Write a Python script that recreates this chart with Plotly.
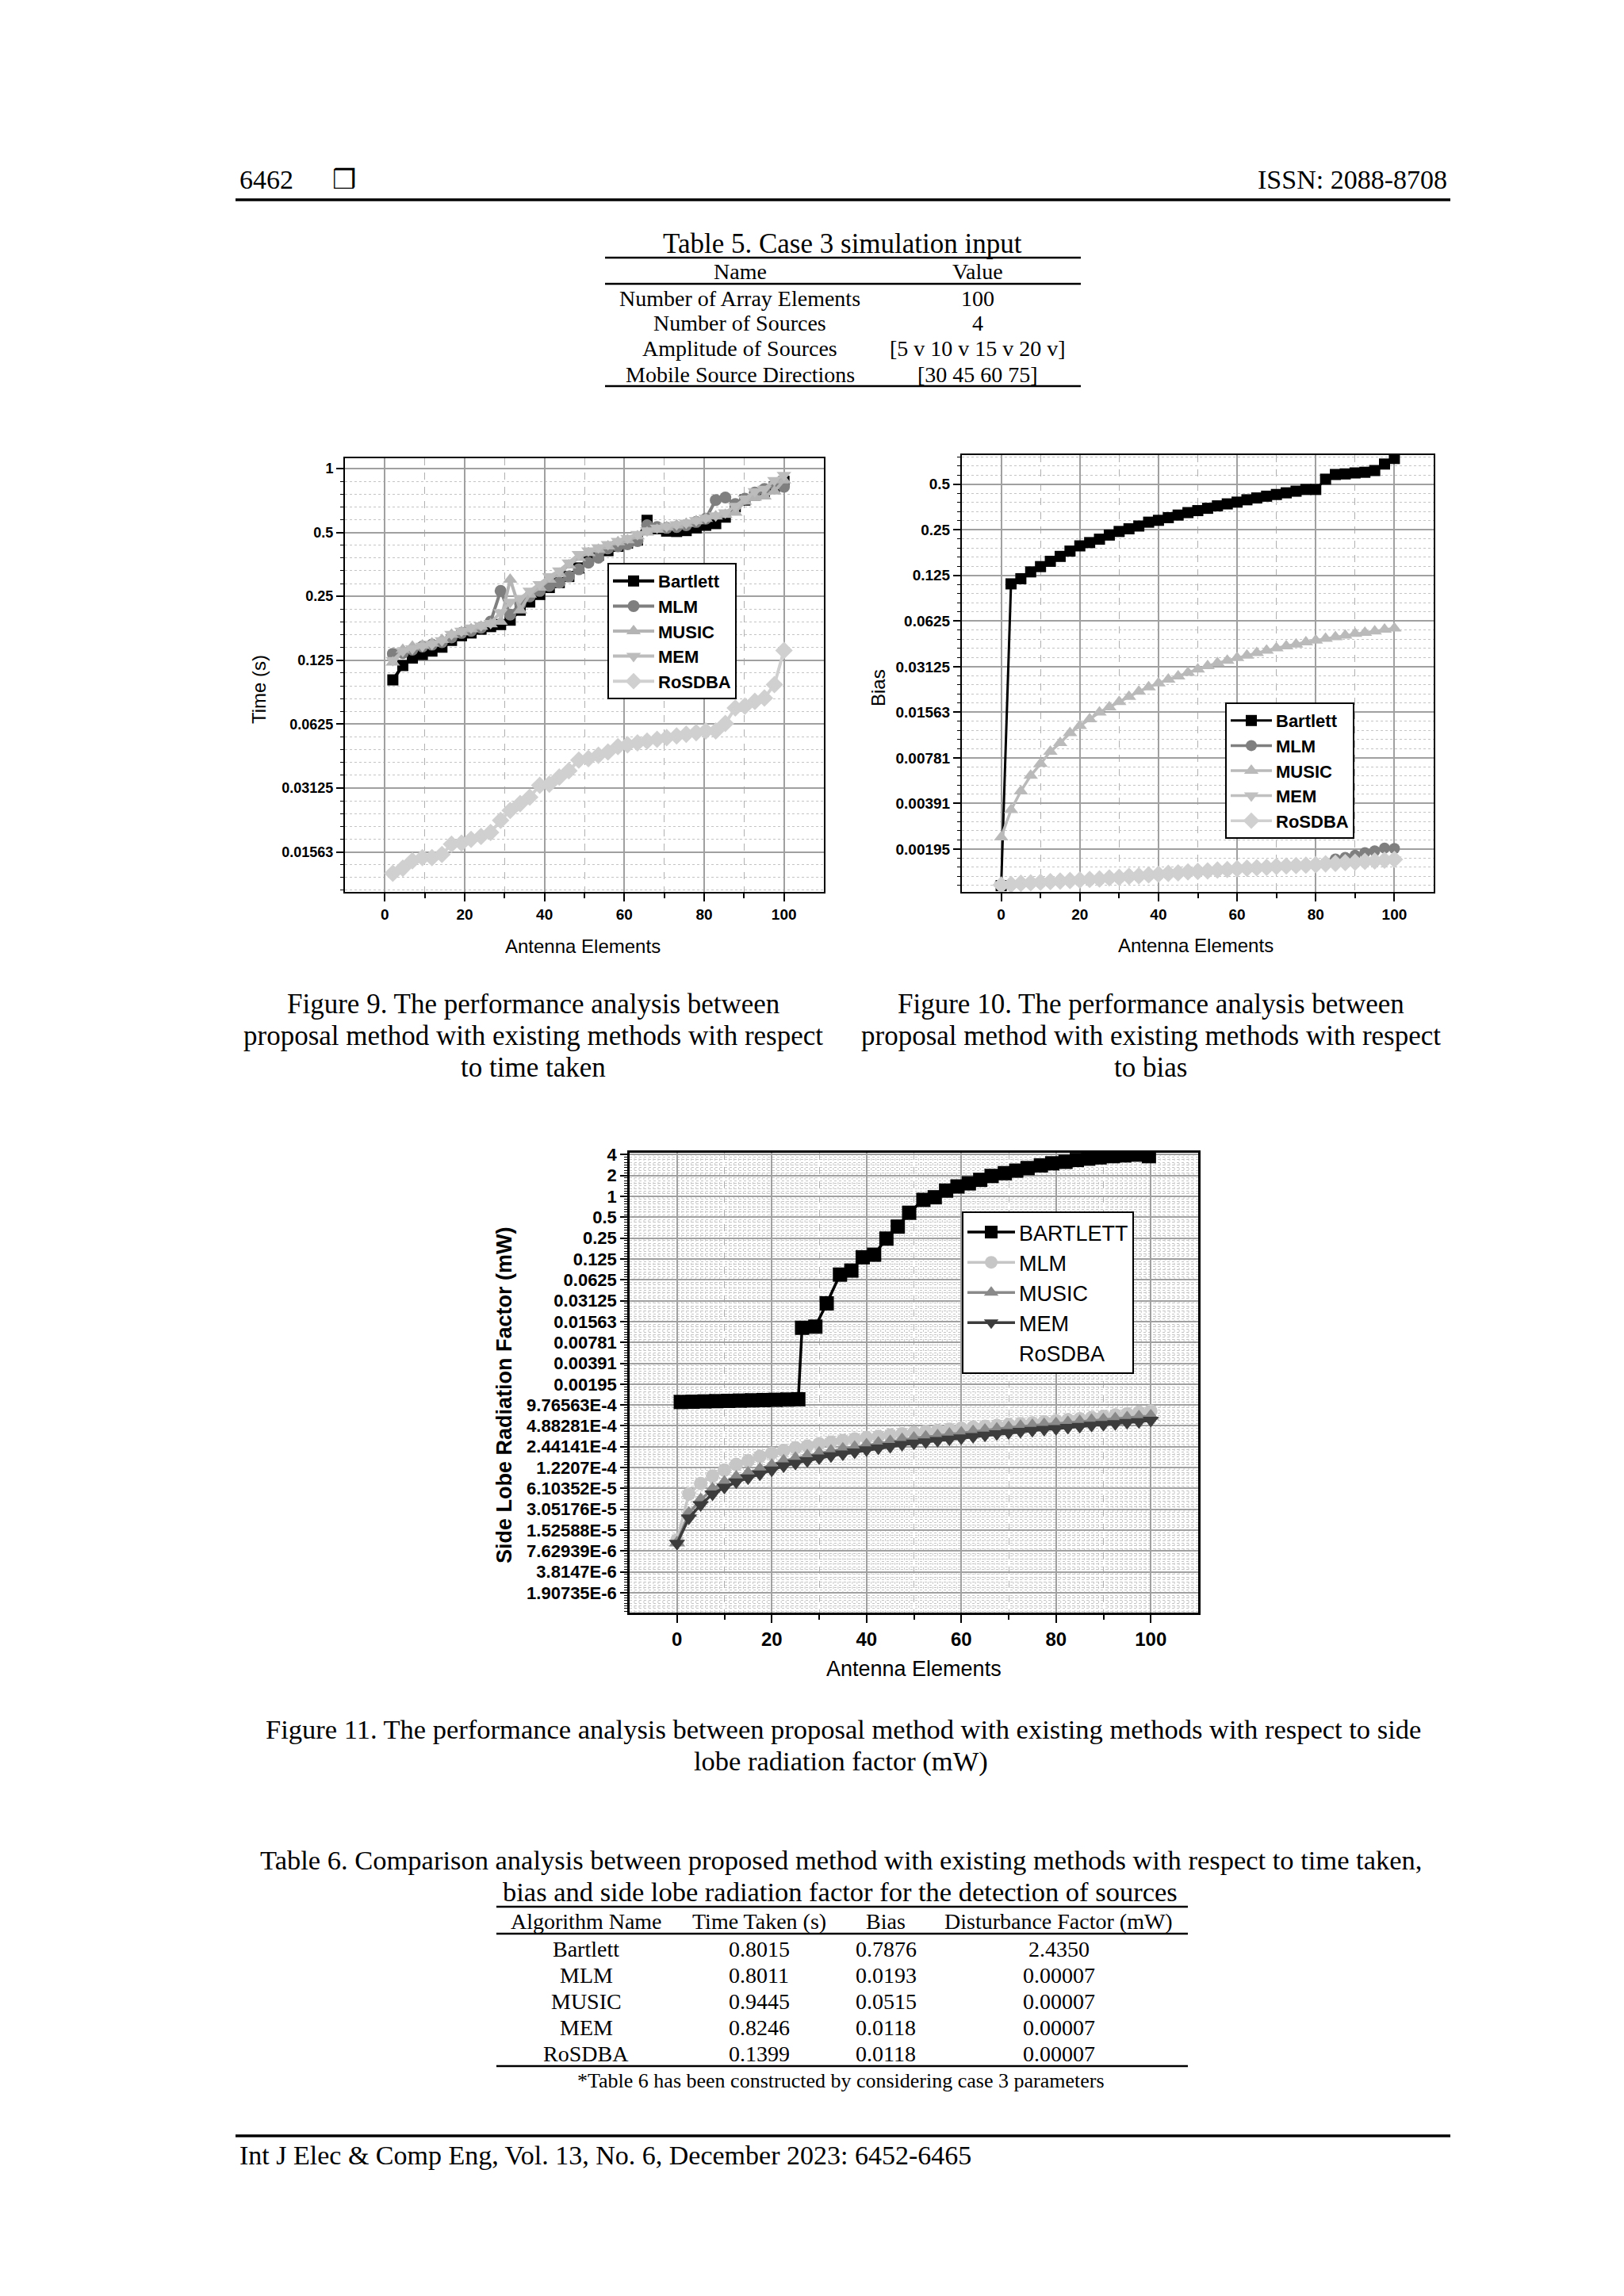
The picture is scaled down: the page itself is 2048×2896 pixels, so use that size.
import numpy as np
import plotly.graph_objects as go

W, H = 2048, 2896
def PX(x): return x / W
def PY(y): return 1 - y / H
LOG2 = np.log10(2)
SERIF = "Liberation Serif"
SANS = "Liberation Sans"

# ---------------- data: Figure 9 (time taken) ----------------
ELEM9 = [2, 4.5, 6.9, 9.4, 11.8, 14.3, 16.7, 19.2, 21.6, 24.1, 26.5, 29, 31.4, 33.9, 36.3, 38.8,
         41.2, 43.7, 46.1, 48.6, 51, 53.5, 55.9, 58.4, 60.8, 63.3, 65.7, 68.2, 70.6, 73.1, 75.5,
         78, 80.4, 82.9, 85.3, 87.8, 90.2, 92.7, 95.1, 97.6, 100]
TIME_BARTLETT = [0.101, 0.118, 0.128, 0.133, 0.138, 0.144, 0.155, 0.163, 0.168, 0.175,
                 0.180, 0.184, 0.193, 0.215, 0.235, 0.255, 0.275, 0.29, 0.31, 0.34,
                 0.375, 0.39, 0.41, 0.43, 0.445, 0.46, 0.57, 0.52, 0.507, 0.505,
                 0.51, 0.525, 0.54, 0.55, 0.59, 0.66, 0.71, 0.75, 0.78, 0.82, 0.87]
TIME_MLM = [0.134, 0.135, 0.14, 0.145, 0.148, 0.152, 0.16, 0.168, 0.172, 0.178,
            0.19, 0.265, 0.205, 0.23, 0.25, 0.265, 0.28, 0.29, 0.31, 0.335,
            0.36, 0.38, 0.42, 0.43, 0.44, 0.455, 0.54, 0.53, 0.525, 0.53,
            0.54, 0.56, 0.58, 0.71, 0.73, 0.68, 0.72, 0.77, 0.8, 0.84, 0.82]
TIME_MUSIC = [0.122, 0.14, 0.145, 0.147, 0.15, 0.156, 0.165, 0.17, 0.175, 0.18,
              0.185, 0.19, 0.30, 0.215, 0.255, 0.275, 0.3, 0.32, 0.35, 0.38,
              0.4, 0.415, 0.43, 0.45, 0.46, 0.48, 0.5, 0.515, 0.53, 0.54,
              0.55, 0.565, 0.58, 0.595, 0.605, 0.62, 0.7, 0.73, 0.74, 0.78, 0.88]
TIME_MEM = [0.125, 0.138, 0.142, 0.146, 0.149, 0.155, 0.166, 0.172, 0.178, 0.182,
            0.187, 0.21, 0.235, 0.245, 0.265, 0.285, 0.31, 0.33, 0.36, 0.395,
            0.41, 0.425, 0.44, 0.455, 0.47, 0.49, 0.51, 0.525, 0.535, 0.545,
            0.555, 0.57, 0.585, 0.6, 0.62, 0.665, 0.72, 0.78, 0.8, 0.88, 0.93]
TIME_ROSDBA = [0.0124, 0.0131, 0.0142, 0.0147, 0.0147, 0.0152, 0.017, 0.0172, 0.0179, 0.0185,
               0.0193, 0.022, 0.0245, 0.0264, 0.0283, 0.0322, 0.0326, 0.0352, 0.0377, 0.0423,
               0.043, 0.0446, 0.0462, 0.049, 0.050, 0.051, 0.052, 0.053, 0.054, 0.055,
               0.056, 0.057, 0.058, 0.058, 0.063, 0.0745, 0.076, 0.08, 0.083, 0.096, 0.139]
TIME_TICKVALS = [1, 0.5, 0.25, 0.125, 0.0625, 0.03125, 0.015625]
TIME_TICKTEXT = ["1", "0.5", "0.25", "0.125", "0.0625", "0.03125", "0.01563"]

# ---------------- data: Figure 10 (bias) ----------------
ELEM10 = [0, 2.5, 5, 7.5, 10, 12.5, 15, 17.5, 20, 22.5, 25, 27.5, 30, 32.5, 35, 37.5, 40, 42.5,
          45, 47.5, 50, 52.5, 55, 57.5, 60, 62.5, 65, 67.5, 70, 72.5, 75, 77.5, 80, 82.5, 85,
          87.5, 90, 92.5, 95, 97.5, 100]
BIAS_BARTLETT = [0.00112, 0.110, 0.119, 0.132, 0.143, 0.155, 0.167, 0.181, 0.196, 0.206, 0.217,
                 0.231, 0.244, 0.254, 0.265, 0.281, 0.289, 0.301, 0.313, 0.325, 0.335,
                 0.347, 0.36, 0.371, 0.381, 0.395, 0.406, 0.417, 0.428, 0.439, 0.45,
                 0.462, 0.462, 0.54, 0.58, 0.585, 0.594, 0.6, 0.616, 0.68, 0.74]
BIAS_MLM = [0.00112, 0.00113, 0.00115, 0.00116, 0.00117, 0.00118, 0.00119, 0.0012, 0.00121, 0.00122,
            0.00123, 0.00125, 0.00126, 0.00128, 0.00129, 0.00131, 0.00132, 0.00134, 0.00135, 0.00137,
            0.00138, 0.00139, 0.00141, 0.00142, 0.00144, 0.00145, 0.00146, 0.00147, 0.00149, 0.0015,
            0.00151, 0.00152, 0.00153, 0.00158, 0.00168, 0.00172, 0.00178, 0.00185, 0.0019, 0.00198, 0.00197]
BIAS_MUSIC = [0.00234, 0.00354, 0.00471, 0.00596, 0.00714, 0.0086, 0.0098, 0.0114, 0.0127, 0.0141,
              0.0156, 0.0169, 0.0183, 0.0198, 0.0214, 0.0229, 0.0243, 0.0257, 0.027, 0.0285,
              0.03, 0.0316, 0.033, 0.0343, 0.0357, 0.037, 0.0385, 0.0399, 0.0414, 0.0427,
              0.0438, 0.0454, 0.0466, 0.0478, 0.049, 0.0503, 0.0516, 0.0524, 0.0535, 0.0549, 0.056]
BIAS_MEM = [0.00113, 0.00114, 0.00115, 0.00117, 0.00118, 0.00119, 0.0012, 0.00121, 0.00122, 0.00123,
            0.00124, 0.00125, 0.00127, 0.00128, 0.0013, 0.00131, 0.00133, 0.00134, 0.00136, 0.00137,
            0.00139, 0.0014, 0.00141, 0.00143, 0.00144, 0.00146, 0.00147, 0.00148, 0.00149, 0.00151,
            0.00152, 0.00153, 0.00154, 0.00155, 0.00157, 0.00158, 0.0016, 0.00161, 0.00163, 0.00164, 0.00166]
BIAS_ROSDBA = [0.00113, 0.00114, 0.00116, 0.00117, 0.00118, 0.00119, 0.0012, 0.00121, 0.00122, 0.00123,
               0.00124, 0.00126, 0.00127, 0.00129, 0.0013, 0.00132, 0.00133, 0.00135, 0.00136, 0.00138,
               0.00139, 0.0014, 0.00142, 0.00143, 0.00145, 0.00146, 0.00147, 0.00148, 0.0015, 0.00151,
               0.00152, 0.00153, 0.00154, 0.00156, 0.00157, 0.00159, 0.0016, 0.00162, 0.00163, 0.00165, 0.00167]
BIAS_TICKVALS = [0.5, 0.25, 0.125, 0.0625, 0.03125, 0.015625, 0.0078125, 0.00390625, 0.001953125]
BIAS_TICKTEXT = ["0.5", "0.25", "0.125", "0.0625", "0.03125", "0.01563", "0.00781", "0.00391", "0.00195"]

# ---------------- data: Figure 11 (side lobe radiation factor) ----------------
ELEM11_BARTLETT = [0.8, 3.3, 5.8, 8.3, 10.8, 13.3, 15.8, 18.3, 20.8, 23.3, 25.6, 26.4, 29.2, 31.6,
                   34.4, 36.8, 39.2, 41.6, 44.2, 46.6, 49, 52, 54.4, 56.8, 59.2, 61.6, 64, 66.4,
                   69.2, 71.6, 74, 76.8, 79.2, 82, 84.4, 86.8, 89.2, 92, 94.4, 96.8, 99.6]
SLR_BARTLETT = [1.08e-3, 1.09e-3, 1.1e-3, 1.11e-3, 1.12e-3, 1.13e-3, 1.14e-3, 1.15e-3, 1.16e-3, 1.17e-3,
                1.18e-3, 0.0127, 0.0132, 0.0286, 0.0743, 0.085, 0.132, 0.144, 0.246, 0.366, 0.58,
                0.89, 0.97, 1.21, 1.39, 1.54, 1.73, 1.97, 2.16, 2.35, 2.56,
                2.8, 3.0, 3.15, 3.35, 3.5, 3.65, 3.8, 3.9, 4.0, 3.8]
ELEM11 = ELEM10
SLR_MLM = [1.1e-5, 5.06e-5, 7.2e-5, 9.2e-5, 1.12e-4, 1.35e-4, 1.53e-4, 1.77e-4, 1.97e-4, 2.15e-4,
           2.35e-4, 2.5e-4, 2.7e-4, 2.85e-4, 3.0e-4, 3.15e-4, 3.3e-4, 3.45e-4, 3.6e-4, 3.75e-4,
           3.9e-4, 4.05e-4, 4.2e-4, 4.35e-4, 4.5e-4, 4.65e-4, 4.8e-4, 4.95e-4, 5.1e-4, 5.25e-4,
           5.4e-4, 5.6e-4, 5.8e-4, 6.0e-4, 6.2e-4, 6.45e-4, 6.7e-4, 7.0e-4, 7.3e-4, 7.7e-4, 8.0e-4]
SLR_MUSIC = [1.0e-5, 2.7e-5, 4.2e-5, 6.0e-5, 7.5e-5, 8.9e-5, 1.02e-4, 1.16e-4, 1.32e-4, 1.52e-4,
             1.66e-4, 1.8e-4, 1.98e-4, 2.12e-4, 2.26e-4, 2.4e-4, 2.59e-4, 2.76e-4, 2.9e-4, 3.09e-4,
             3.24e-4, 3.38e-4, 3.52e-4, 3.69e-4, 3.85e-4, 4.04e-4, 4.22e-4, 4.4e-4, 4.6e-4, 4.8e-4,
             4.93e-4, 5.12e-4, 5.26e-4, 5.45e-4, 5.65e-4, 5.88e-4, 6.0e-4, 6.2e-4, 6.4e-4, 6.6e-4, 6.8e-4]
SLR_MEM = [9.8e-6, 2.28e-5, 3.55e-5, 5.06e-5, 6.32e-5, 7.56e-5, 8.63e-5, 9.86e-5, 1.12e-4, 1.29e-4,
           1.41e-4, 1.53e-4, 1.68e-4, 1.80e-4, 1.92e-4, 2.04e-4, 2.2e-4, 2.34e-4, 2.46e-4, 2.62e-4,
           2.75e-4, 2.87e-4, 2.99e-4, 3.13e-4, 3.27e-4, 3.43e-4, 3.58e-4, 3.74e-4, 3.9e-4, 4.07e-4,
           4.18e-4, 4.34e-4, 4.46e-4, 4.62e-4, 4.79e-4, 4.99e-4, 5.1e-4, 5.25e-4, 5.44e-4, 5.6e-4, 5.86e-4]
SLR_ROSDBA = SLR_MEM
SLR_TICKVALS = [2.0 ** k for k in range(2, -20, -1)]
SLR_TICKTEXT = ["4", "2", "1", "0.5", "0.25", "0.125", "0.0625", "0.03125", "0.01563", "0.00781",
                "0.00391", "0.00195", "9.76563E-4", "4.88281E-4", "2.44141E-4", "1.2207E-4",
                "6.10352E-5", "3.05176E-5", "1.52588E-5", "7.62939E-6", "3.8147E-6", "1.90735E-6"]

X_TICKVALS = [0, 20, 40, 60, 80, 100]

# ---------------- tables ----------------
T5_NAMES = ["Number of Array Elements", "Number of Sources", "Amplitude of Sources", "Mobile Source Directions"]
T5_VALUES = ["100", "4", "[5 v 10 v 15 v 20 v]", "[30 45 60 75]"]
T6_HEADER = ["Algorithm Name", "Time Taken (s)", "Bias", "Disturbance Factor (mW)"]
T6_ALGOS = ["Bartlett", "MLM", "MUSIC", "MEM", "RoSDBA"]
T6_TIME = ["0.8015", "0.8011", "0.9445", "0.8246", "0.1399"]
T6_BIAS = ["0.7876", "0.0193", "0.0515", "0.0118", "0.0118"]
T6_DIST = ["2.4350", "0.00007", "0.00007", "0.00007", "0.00007"]

fig = go.Figure()

def add_series(xs, ys, name, color, symbol, size, width, xa, ya, leg, rank):
    fig.add_trace(go.Scatter(
        x=xs, y=ys, name=name, mode="lines+markers",
        line=dict(color=color, width=width),
        marker=dict(symbol=symbol, size=size, color=color, line=dict(width=0)),
        xaxis=xa, yaxis=ya, legend=leg, legendrank=rank, showlegend=True))

# Figure 9
add_series(ELEM9, TIME_BARTLETT, "Bartlett", "#000000", "square", 14, 4, "x", "y", "legend", 1)
add_series(ELEM9, TIME_MLM, "MLM", "#7f7f7f", "circle", 15, 4, "x", "y", "legend", 2)
add_series(ELEM9, TIME_MUSIC, "MUSIC", "#b4b4b4", "triangle-up", 16, 4, "x", "y", "legend", 3)
add_series(ELEM9, TIME_MEM, "MEM", "#bcbcbc", "triangle-down", 16, 4, "x", "y", "legend", 4)
add_series(ELEM9, TIME_ROSDBA, "RoSDBA", "#d0d0d0", "diamond", 17, 4, "x", "y", "legend", 5)

# Figure 10
add_series(ELEM10, BIAS_BARTLETT, "Bartlett", "#000000", "square", 14, 3, "x2", "y2", "legend2", 1)
add_series(ELEM10, BIAS_MLM, "MLM", "#7f7f7f", "circle", 14, 3.5, "x2", "y2", "legend2", 2)
add_series(ELEM10, BIAS_MUSIC, "MUSIC", "#bababa", "triangle-up", 16, 3.5, "x2", "y2", "legend2", 3)
add_series(ELEM10, BIAS_MEM, "MEM", "#c0c0c0", "triangle-down", 16, 3.5, "x2", "y2", "legend2", 4)
add_series(ELEM10, BIAS_ROSDBA, "RoSDBA", "#d0d0d0", "diamond", 17, 3.5, "x2", "y2", "legend2", 5)

# Figure 11 (RoSDBA is drawn fully transparent, only its legend label shows)
fig.add_trace(go.Scatter(x=ELEM11, y=SLR_ROSDBA, name="RoSDBA", mode="lines+markers",
                         line=dict(color="rgba(0,0,0,0)", width=2),
                         marker=dict(color="rgba(0,0,0,0)", size=2),
                         xaxis="x3", yaxis="y3", legend="legend3", legendrank=5))
add_series(ELEM11_BARTLETT, SLR_BARTLETT, "BARTLETT", "#000000", "square", 18, 3.5, "x3", "y3", "legend3", 1)
add_series(ELEM11, SLR_MLM, "MLM", "#c6c6c6", "circle", 17, 3.5, "x3", "y3", "legend3", 2)
add_series(ELEM11, SLR_MUSIC, "MUSIC", "#8a8a8a", "triangle-up", 18, 3.5, "x3", "y3", "legend3", 3)
add_series(ELEM11, SLR_MEM, "MEM", "#3c3c3c", "triangle-down", 18, 3.5, "x3", "y3", "legend3", 4)

def minor_log(lo, hi, n):
    vals = []
    for k in range(lo, hi + 1):
        for j in range(1, n):
            vals.append(2.0 ** (k + j / n))
    return vals

def xaxis(domain, anchor, fsize, lw):
    return dict(domain=domain, anchor=anchor, range=[-10, 110], tickmode="array",
                tickvals=X_TICKVALS, ticktext=[str(v) for v in X_TICKVALS],
                ticks="outside", ticklen=10, tickwidth=2, tickcolor="black",
                showline=True, linecolor="black", linewidth=lw, mirror=True,
                showgrid=True, gridcolor="#a0a0a0", gridwidth=1.5, zeroline=False,
                tickfont=dict(family=SANS, size=fsize, color="black", weight="bold"),
                minor=dict(tickmode="array", tickvals=[10, 30, 50, 70, 90], ticks="outside",
                           ticklen=6, tickwidth=2, tickcolor="black", showgrid=True,
                           gridcolor="#b0b0b0", griddash="dash", gridwidth=1),
                automargin=False, fixedrange=True)

def yaxis(domain, anchor, lo2, hi2, tv, tt, fsize, minor_vals, lw):
    return dict(domain=domain, anchor=anchor, type="log", range=[lo2 * LOG2, hi2 * LOG2],
                tickmode="array", tickvals=tv, ticktext=tt,
                ticks="outside", ticklen=9, tickwidth=2, tickcolor="black",
                showline=True, linecolor="black", linewidth=lw, mirror=True,
                showgrid=True, gridcolor="#a0a0a0", gridwidth=1.5, zeroline=False,
                tickfont=dict(family=SANS, size=fsize, color="black", weight="bold"),
                minor=dict(tickmode="array", tickvals=minor_vals, ticks="outside", ticklen=4,
                           tickwidth=1, tickcolor="black", showgrid=True, gridcolor="#c4c4c4",
                           griddash="dot", gridwidth=1),
                automargin=False, fixedrange=True)

fig.update_layout(
    width=W, height=H, margin=dict(l=0, r=0, t=0, b=0),
    paper_bgcolor="white", plot_bgcolor="white",
    xaxis=xaxis([PX(427), PX(1031)], "y", 19, 2),
    yaxis=yaxis([PY(1117), PY(570)], "x", -6.625, 0.16, TIME_TICKVALS, TIME_TICKTEXT, 18,
                minor_log(-7, 0, 5), 2),
    xaxis2=xaxis([PX(1205), PX(1800)], "y2", 19, 2),
    yaxis2=yaxis([PY(1117), PY(566)], "x2", -9.94, -0.36, BIAS_TICKVALS, BIAS_TICKTEXT, 19,
                 minor_log(-10, 0, 5), 2),
    xaxis3=xaxis([PX(786), PX(1503)], "y3", 24, 2.5),
    yaxis3=yaxis([PY(2026), PY(1446)], "x3", -19.95, 2.09, SLR_TICKVALS, SLR_TICKTEXT, 22,
                 minor_log(-21, 2, 8), 2.5),
    showlegend=True,
)

legend_common = dict(xanchor="left", yanchor="top", bgcolor="white", bordercolor="black",
                     borderwidth=2, tracegroupgap=0, traceorder="normal")
fig.update_layout(
    legend=dict(x=PX(758), y=PY(702), itemwidth=52,
                font=dict(family=SANS, size=22, color="black", weight="bold"), **legend_common),
    legend2=dict(x=PX(1537), y=PY(878), itemwidth=52,
                 font=dict(family=SANS, size=22, color="black", weight="bold"), **legend_common),
    legend3=dict(x=PX(1205), y=PY(1520), itemwidth=60,
                 font=dict(family=SANS, size=27, color="black"), **legend_common),
)

# dense dotted vertical grid for Figure 11
shapes = []
for v in range(-9, 110):
    if v % 10 != 0:
        shapes.append(dict(type="line", xref="x3", yref="y3 domain", x0=v, x1=v, y0=0, y1=1,
                           line=dict(color="#c8c8c8", width=1, dash="dot"), layer="below"))

def rule(x0, x1, y, w=2.5):
    shapes.append(dict(type="line", xref="paper", yref="paper", x0=PX(x0), x1=PX(x1),
                       y0=PY(y), y1=PY(y), line=dict(color="black", width=w)))

ann = []
def text(s, x, y, size, anchor="center", family=SERIF, angle=0, weight="normal"):
    ann.append(dict(text=s, x=PX(x), y=PY(y), xref="paper", yref="paper", showarrow=False,
                    xanchor=anchor, yanchor="middle", textangle=angle,
                    font=dict(family=family, size=size, color="black", weight=weight)))

# header / footer
text("6462", 292, 218, 34, "left")
text("❒", 426, 218, 34, "center", family="DejaVu Sans")
text("ISSN: 2088-8708", 1819, 218, 34, "right")
rule(289, 1821, 244, 3.5)
rule(289, 1821, 2686, 3.5)
text("Int J Elec & Comp Eng, Vol. 13, No. 6, December 2023: 6452-6465", 292, 2710, 34, "left")

# Table 5
text("Table 5. Case 3 simulation input", 1054, 299, 35)
rule(755, 1355, 317)
text("Name", 925, 334, 28)
text("Value", 1225, 334, 28)
rule(755, 1355, 350)
for i, (n, v) in enumerate(zip(T5_NAMES, T5_VALUES)):
    yy = 368 + i * 32
    text(n, 925, yy, 28)
    text(v, 1225, yy, 28)
rule(755, 1355, 479)

# figure captions
for i, line in enumerate(["Figure 9. The performance analysis between",
                          "proposal method with existing methods with respect",
                          "to time taken"]):
    text(line, 664, 1258 + i * 40, 35)
for i, line in enumerate(["Figure 10. The performance analysis between",
                          "proposal method with existing methods with respect",
                          "to bias"]):
    text(line, 1443, 1258 + i * 40, 35)
text("Figure 11. The performance analysis between proposal method with existing methods with respect to side",
     1055, 2173, 34.5)
text("lobe radiation factor (mW)", 1052, 2213, 34.5)

# axis titles
text("Time (s)", 319, 862, 24, family=SANS, angle=-90)
text("Antenna Elements", 727, 1185, 24, family=SANS)
text("Bias", 1099, 860, 24, family=SANS, angle=-90)
text("Antenna Elements", 1500, 1184, 24, family=SANS)
text("Side Lobe Radiation Factor (mW)", 628, 1752, 27, family=SANS, angle=-90, weight="bold")
text("Antenna Elements", 1144, 2097, 27, family=SANS)

# Table 6
text("Table 6. Comparison analysis between proposed method with existing methods with respect to time taken,",
     1052, 2338, 34.5)
text("bias and side lobe radiation factor for the detection of sources", 1051, 2378, 34.5)
rule(618, 1490, 2397)
T6_COLS = [731, 949, 1109, 1327]
for cx, h in zip(T6_COLS, T6_HEADER):
    text(h, cx, 2415, 28)
rule(618, 1490, 2431)
for i, row in enumerate(zip(T6_ALGOS, T6_TIME, T6_BIAS, T6_DIST)):
    yy = 2450 + i * 33
    for cx, s in zip(T6_COLS, row):
        text(s, cx, yy, 28)
rule(618, 1490, 2598)
text("*Table 6 has been constructed by considering case 3 parameters", 1052, 2616, 26)

fig.update_layout(shapes=shapes, annotations=ann)
fig.write_html("out.html")
